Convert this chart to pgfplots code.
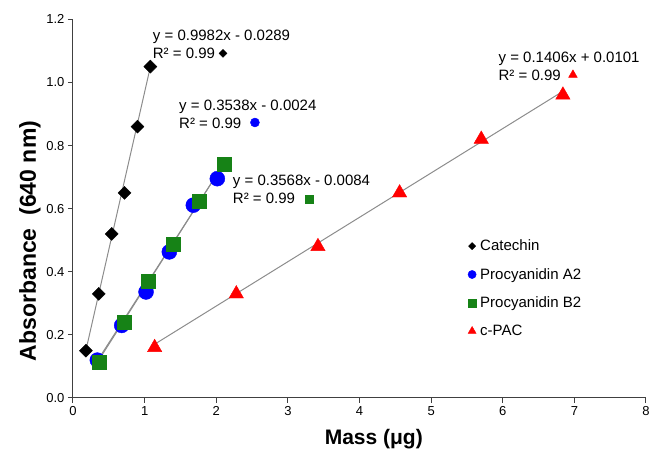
\documentclass[border=0pt]{standalone}
\usepackage{fontspec}
\setmainfont{Liberation Sans}
\usepackage{pgfplots}
\pgfplotsset{compat=1.18}
\definecolor{cgreen}{RGB}{22,130,22}
\definecolor{tline}{RGB}{140,140,140}
\begin{document}
\begin{tikzpicture}
\useasboundingbox (-73pt,-54pt) rectangle (576pt,398pt);
\begin{axis}[
    scale only axis, width=573pt, height=378.7pt,
    xmin=0, xmax=8, ymin=0, ymax=1.2,
    axis lines*=left,
    axis line style={black!75, line width=1pt},
    every tick/.style={black!75, line width=1pt},
    tick align=outside, major tick length=5pt,
    xtick={0,1,2,3,4,5,6,7,8},
    ytick={0,0.2,0.4,0.6,0.8,1.0,1.2},
    /pgf/number format/assume math mode=true,
    yticklabel style={/pgf/number format/.cd, fixed, fixed zerofill, precision=1},
    tick label style={font=\fontsize{13}{15}\selectfont},
    xlabel={Mass (μg)},
    ylabel={Absorbance\ \ (640 nm)},
    xlabel style={at={(axis description cs:0.525,0)}, anchor=base, yshift=-47pt,
                  font=\fontsize{21}{24}\selectfont\bfseries},
    ylabel style={at={(axis description cs:-0.0646,0.4146)}, anchor=base,
                  font=\fontsize{23}{26}\selectfont\bfseries},
    legend cell align=left,
    legend image code/.code={\draw[#1, /tikz/every mark/.append style={scale=0.55}] plot coordinates {(0pt,0pt)};},
    legend style={draw=none, fill=none, at={(axis cs:5.47,0.511)}, anchor=north west,
                  font=\fontsize{15}{18}\selectfont, row sep=14pt,
                  nodes={inner sep=1pt},
                  /tikz/every odd column/.append style={column sep=3pt}},
]
% data points
\addplot[only marks, black, mark=square*, mark size=4.6pt, mark options={rotate=45}]
  coordinates {(0.18,0.15) (0.36,0.33) (0.54,0.52) (0.72,0.65) (0.90,0.86) (1.08,1.05)};
\addlegendentry{Catechin}
\addplot[only marks, blue, mark=*, mark size=7.5pt]
  coordinates {(0.34,0.12) (0.68,0.23) (1.02,0.336) (1.345,0.463) (1.68,0.611) (2.015,0.695)};
\addlegendentry{Procyanidin A2}
\addplot[only marks, cgreen, mark=square*, mark size=7pt]
  coordinates {(0.36,0.115) (0.71,0.24) (1.05,0.37) (1.40,0.487) (1.76,0.624) (2.11,0.740)};
\addlegendentry{Procyanidin B2}
\addplot[only marks, red, mark=triangle*, mark size=8.3pt]
  coordinates {(1.14,0.16) (2.28,0.33) (3.42,0.48) (4.56,0.65) (5.70,0.82) (6.84,0.96)};
\addlegendentry{c-PAC}
% trend lines
\addplot[tline, line width=1pt, forget plot] coordinates {(0.18,0.1508) (1.08,1.0492)};
\addplot[tline, line width=1pt, forget plot] coordinates {(0.34,0.1179) (2.015,0.7105)};
\addplot[tline, line width=1pt, forget plot] coordinates {(0.36,0.1200) (2.11,0.7445)};
\addplot[tline, line width=1pt, forget plot] coordinates {(1.14,0.1704) (6.84,0.9718)};
% equation markers
\addplot[only marks, black, mark=square*, mark size=2.8pt, mark options={rotate=45}, forget plot]
  coordinates {(2.095,1.092)};
\addplot[only marks, blue, mark=*, mark size=4.5pt, forget plot] coordinates {(2.54,0.873)};
\addplot[only marks, cgreen, mark=square*, mark size=4.2pt, forget plot] coordinates {(3.30,0.630)};
\addplot[only marks, red, mark=triangle*, mark size=5pt, forget plot] coordinates {(6.98,1.024)};
% equations
\begin{scope}[every node/.style={anchor=west, align=left, inner sep=0pt,
      font=\fontsize{15}{18}\selectfont}]
\node at (axis cs:1.113,1.120) {y = 0.9982x - 0.0289\\R² = 0.99};
\node at (axis cs:1.48,0.900) {y = 0.3538x - 0.0024\\R² = 0.99};
\node at (axis cs:2.23,0.660) {y = 0.3568x - 0.0084\\R² = 0.99};
\node at (axis cs:5.94,1.052) {y = 0.1406x + 0.0101\\R² = 0.99};
\end{scope}
\end{axis}
\end{tikzpicture}
\end{document}
